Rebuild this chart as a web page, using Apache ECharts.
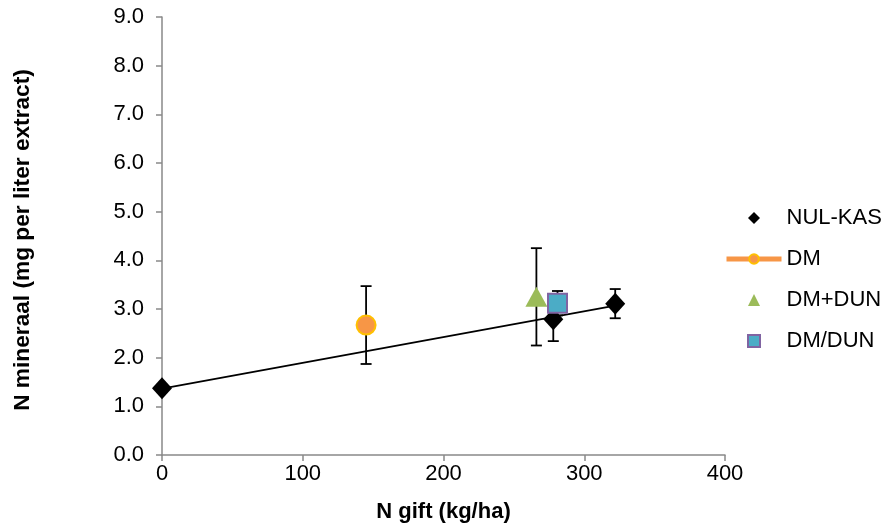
<!DOCTYPE html>
<html lang="nl">
<head>
    <meta charset="UTF-8">
    <title>N mineraal</title>
    <style>
        html, body { margin: 0; padding: 0; background: #fff; }
        #chart { width: 886px; height: 531px; }
    </style>
</head>
<body>
    <div id="chart"></div>
</body>
<script src="https://cdn.jsdelivr.net/npm/echarts@6/dist/echarts.min.js"></script>
<script>
    // data
    const nulKasX = [0, 278, 322]
    const nulKasY = [1.37, 2.79, 3.11]
    const nulKasErr = [0, 0.45, 0.3]

    const dmX = [145]
    const dmY = [2.67]
    const dmErr = [0.8]

    const dmDunX = [266]
    const dmDunY = [3.25]
    const dmDunErr = [1.0]

    const dmSlashDunX = [281]
    const dmSlashDunY = [3.12]
    const dmSlashDunErr = [0.25]

    const xTicks = [0, 100, 200, 300, 400]
    const yTicks = [0, 1, 2, 3, 4, 5, 6, 7, 8, 9]

    const font = '"Liberation Sans", Arial, sans-serif'

    const pairs = (xs, ys) => xs.map((x, i) => [x, ys[i]])
    const errRows = (xs, ys, es) => xs.map((x, i) => [x, ys[i] - es[i], ys[i] + es[i]]).filter((r, i) => es[i] > 0)

    // linear trendline through NUL-KAS (least squares)
    const n = nulKasX.length
    const mx = nulKasX.reduce((a, b) => a + b, 0) / n
    const my = nulKasY.reduce((a, b) => a + b, 0) / n
    let sxy = 0, sxx = 0
    nulKasX.forEach((x, i) => { sxy += (x - mx) * (nulKasY[i] - my); sxx += (x - mx) * (x - mx) })
    const slope = sxy / sxx
    const icpt = my - slope * mx
    const xLo = Math.min(...nulKasX), xHi = Math.max(...nulKasX)
    const trend = [[xLo, icpt + slope * xLo], [xHi, icpt + slope * xHi]]

    const errorBars = [].concat(
        errRows(nulKasX, nulKasY, nulKasErr),
        errRows(dmX, dmY, dmErr),
        errRows(dmDunX, dmDunY, dmDunErr),
        errRows(dmSlashDunX, dmSlashDunY, dmSlashDunErr)
    )

    // legend icons as paths so they keep their aspect inside the wide legend slot
    const diamondIcon = 'path://M5,0L10,5L5,10L0,5Z'
    const triangleIcon = 'path://M5,0L10,10L0,10Z'
    const squareIcon = 'path://M0,0L10,0L10,10L0,10Z'

    const chart = echarts.init(document.getElementById('chart'))

    chart.setOption({
        animation: false,
        backgroundColor: '#fff',
        grid: { left: 162, right: 161, top: 17, bottom: 76 },
        legend: {
            orient: 'vertical',
            left: 719,
            top: 202,
            itemWidth: 55,
            itemHeight: 12,
            itemGap: 19,
            symbolKeepAspect: true,
            textStyle: { fontSize: 22, color: '#000', fontFamily: font },
            data: [
                { name: 'NUL-KAS', icon: diamondIcon },
                { name: 'DM', lineStyle: { width: 5, color: '#F79646' } },
                { name: 'DM+DUN', icon: triangleIcon },
                { name: 'DM/DUN', icon: squareIcon, itemStyle: { borderWidth: 2 } }
            ]
        },
        xAxis: {
            type: 'value',
            min: xTicks[0],
            max: xTicks[xTicks.length - 1],
            interval: 100,
            name: 'N gift (kg/ha)',
            nameLocation: 'middle',
            nameGap: 46,
            nameTextStyle: { fontSize: 22, fontWeight: 'bold', color: '#000', fontFamily: font },
            axisLine: { lineStyle: { color: '#898989', width: 1.5 } },
            axisTick: { show: true, length: 6, lineStyle: { color: '#898989', width: 1.5 } },
            axisLabel: { fontSize: 22, color: '#000', fontFamily: font, margin: 8 },
            splitLine: { show: false }
        },
        yAxis: {
            type: 'value',
            min: yTicks[0],
            max: yTicks[yTicks.length - 1],
            interval: 1,
            axisLine: { show: true, lineStyle: { color: '#898989', width: 1.5 } },
            axisTick: { show: true, length: 6, lineStyle: { color: '#898989', width: 1.5 } },
            axisLabel: { fontSize: 22, color: '#000', fontFamily: font, margin: 18, formatter: v => v.toFixed(1) },
            splitLine: { show: false }
        },
        graphic: [{
            type: 'text',
            x: 23,
            y: 240,
            rotation: Math.PI / 2,
            style: {
                text: 'N mineraal (mg per liter extract)',
                fontSize: 22.7,
                fontWeight: 'bold',
                fontFamily: font,
                fill: '#000',
                align: 'center',
                verticalAlign: 'middle'
            }
        }],
        series: [
            {
                type: 'line',
                data: trend,
                symbol: 'none',
                silent: true,
                z: 1,
                lineStyle: { color: '#000', width: 1.8 }
            },
            {
                type: 'custom',
                data: errorBars,
                encode: { x: 0, y: [1, 2] },
                silent: true,
                z: 2,
                renderItem(params, api) {
                    const x = api.value(0)
                    const top = api.coord([x, api.value(2)])
                    const bot = api.coord([x, api.value(1)])
                    const cap = 5.5
                    const style = { stroke: '#000', lineWidth: 1.8 }
                    return {
                        type: 'group',
                        children: [
                            { type: 'line', shape: { x1: top[0], y1: top[1], x2: bot[0], y2: bot[1] }, style },
                            { type: 'line', shape: { x1: top[0] - cap, y1: top[1], x2: top[0] + cap, y2: top[1] }, style },
                            { type: 'line', shape: { x1: bot[0] - cap, y1: bot[1], x2: bot[0] + cap, y2: bot[1] }, style }
                        ]
                    }
                }
            },
            {
                name: 'NUL-KAS',
                type: 'scatter',
                data: pairs(nulKasX, nulKasY),
                symbol: 'diamond',
                symbolSize: [20, 22],
                z: 3,
                itemStyle: { color: '#000', opacity: 1 }
            },
            {
                name: 'DM',
                type: 'line',
                data: pairs(dmX, dmY),
                symbol: 'circle',
                symbolSize: 19,
                z: 3,
                lineStyle: { color: '#F79646', width: 5 },
                itemStyle: { color: '#F79646', borderColor: '#FFC000', borderWidth: 2, opacity: 1 }
            },
            {
                name: 'DM+DUN',
                type: 'scatter',
                data: pairs(dmDunX, dmDunY),
                symbol: 'triangle',
                symbolSize: [22, 20],
                z: 3,
                itemStyle: { color: '#9BBB59', opacity: 1 }
            },
            {
                name: 'DM/DUN',
                type: 'scatter',
                data: pairs(dmSlashDunX, dmSlashDunY),
                symbol: 'rect',
                symbolSize: 19,
                z: 3,
                itemStyle: { color: '#4BACC6', borderColor: '#8064A2', borderWidth: 2, opacity: 1 }
            }
        ]
    })
</script>
</html>
